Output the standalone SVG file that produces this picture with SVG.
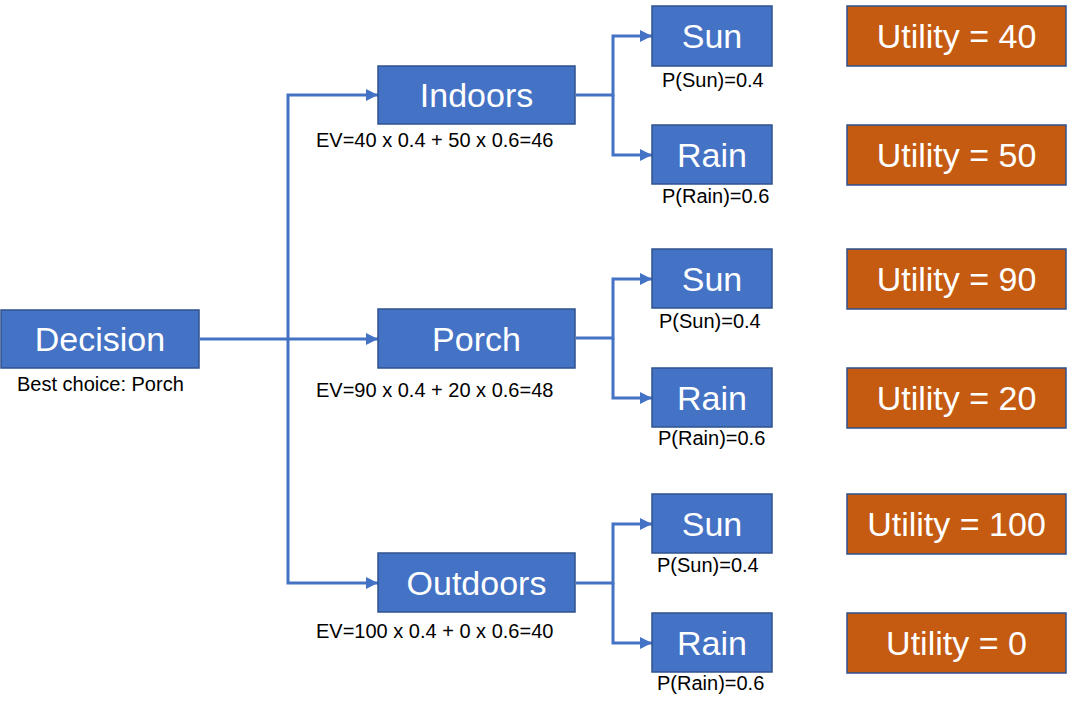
<svg xmlns="http://www.w3.org/2000/svg" width="1073" height="711" viewBox="0 0 1073 711">
<style>
.box{fill:#4472C4;stroke:#2F528F;stroke-width:1.5}
.util{fill:#C55A11;stroke:#2F528F;stroke-width:1.5}
.lbl{font-family:"Liberation Sans",Arial,sans-serif;font-size:34px;fill:#fff;text-anchor:middle}
.sm{font-family:"Liberation Sans",Arial,sans-serif;font-size:20px;fill:#000}
.con{fill:none;stroke:#4472C4;stroke-width:3;marker-end:url(#arr)}
</style>
<defs>
<marker id="arr" viewBox="0 0 10 10" refX="10" refY="5" markerWidth="4" markerHeight="4" markerUnits="strokeWidth" orient="auto">
<path d="M0,0 L10,5 L0,10 z" fill="#4472C4"/>
</marker>
</defs>
<rect width="1073" height="711" fill="#fff"/>
<g id="connectors">
<path class="con" d="M200,339 H378"/>
<path class="con" d="M288,339 V95 H378"/>
<path class="con" d="M288,339 V583 H378"/>
<path class="con" d="M576,95 H613 V36 H652"/>
<path class="con" d="M613,95 V155 H652"/>
<path class="con" d="M576,338 H613 V279 H652"/>
<path class="con" d="M613,338 V398 H652"/>
<path class="con" d="M576,583 H613 V524 H652"/>
<path class="con" d="M613,583 V643 H652"/>
</g>
<g id="decision">
<rect class="box" x="1" y="310" width="198" height="58"/>
<text class="lbl" x="100" y="351">Decision</text>
<text class="sm" x="17" y="391">Best choice: Porch</text>
</g>
<g id="indoors">
<rect class="box" x="378" y="66" width="197" height="58"/>
<text class="lbl" x="476.5" y="107">Indoors</text>
<text class="sm" x="316" y="147">EV=40 x 0.4 + 50 x 0.6=46</text>
</g>
<g id="porch">
<rect class="box" x="378" y="309" width="197" height="59"/>
<text class="lbl" x="476.5" y="351">Porch</text>
<text class="sm" x="316" y="397">EV=90 x 0.4 + 20 x 0.6=48</text>
</g>
<g id="outdoors">
<rect class="box" x="378" y="553" width="197" height="59"/>
<text class="lbl" x="476.5" y="595">Outdoors</text>
<text class="sm" x="316" y="638">EV=100 x 0.4 + 0 x 0.6=40</text>
</g>
<g id="sun1">
<rect class="box" x="652" y="6" width="120" height="60"/>
<text class="lbl" x="712" y="48">Sun</text>
<text class="sm" x="662" y="87">P(Sun)=0.4</text>
</g>
<g id="rain1">
<rect class="box" x="652" y="125" width="120" height="59"/>
<text class="lbl" x="712" y="167">Rain</text>
<text class="sm" x="662" y="203">P(Rain)=0.6</text>
</g>
<g id="sun2">
<rect class="box" x="652" y="249" width="120" height="59"/>
<text class="lbl" x="712" y="291">Sun</text>
<text class="sm" x="659" y="328">P(Sun)=0.4</text>
</g>
<g id="rain2">
<rect class="box" x="652" y="368" width="120" height="59"/>
<text class="lbl" x="712" y="410">Rain</text>
<text class="sm" x="658" y="445">P(Rain)=0.6</text>
</g>
<g id="sun3">
<rect class="box" x="652" y="494" width="120" height="59"/>
<text class="lbl" x="712" y="536">Sun</text>
<text class="sm" x="657" y="572">P(Sun)=0.4</text>
</g>
<g id="rain3">
<rect class="box" x="652" y="613" width="120" height="59"/>
<text class="lbl" x="712" y="655">Rain</text>
<text class="sm" x="657" y="690">P(Rain)=0.6</text>
</g>
<g id="util40">
<rect class="util" x="847" y="6" width="219" height="60"/>
<text class="lbl" x="956.5" y="48">Utility = 40</text>
</g>
<g id="util50">
<rect class="util" x="847" y="125" width="219" height="60"/>
<text class="lbl" x="956.5" y="167">Utility = 50</text>
</g>
<g id="util90">
<rect class="util" x="847" y="249" width="219" height="60"/>
<text class="lbl" x="956.5" y="291">Utility = 90</text>
</g>
<g id="util20">
<rect class="util" x="847" y="368" width="219" height="60"/>
<text class="lbl" x="956.5" y="410">Utility = 20</text>
</g>
<g id="util100">
<rect class="util" x="847" y="494" width="219" height="60"/>
<text class="lbl" x="956.5" y="536">Utility = 100</text>
</g>
<g id="util0">
<rect class="util" x="847" y="613" width="219" height="60"/>
<text class="lbl" x="956.5" y="655">Utility = 0</text>
</g>
</svg>
